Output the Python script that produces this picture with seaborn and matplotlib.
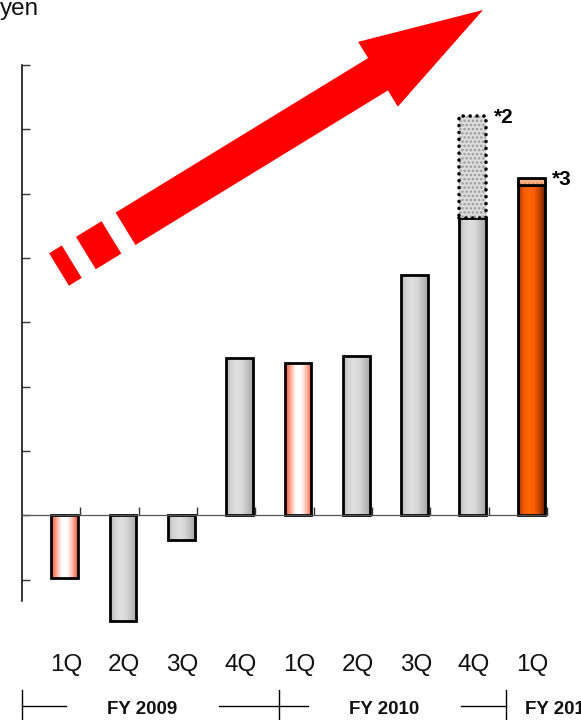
import numpy as np
import pandas as pd
import matplotlib
matplotlib.use("Agg")
import matplotlib.pyplot as plt
import matplotlib.transforms as mtransforms
from matplotlib.colors import LinearSegmentedColormap
from matplotlib.patches import Polygon
import seaborn as sns

# ---- data -------------------------------------------------------------
quarters = ["1Q", "2Q", "3Q", "4Q", "1Q", "2Q", "3Q", "4Q", "1Q"]
fiscal_years = ["FY 2009", "FY 2010", "FY 2011"]
year_of_quarter = ["FY 2009"] * 4 + ["FY 2010"] * 4 + ["FY 2011"]
values = [-0.98, -1.64, -0.38, 2.45, 2.37, 2.47, 3.74, 4.62, 5.13]
extras = [0, 0, 0, 0, 0, 0, 0, 1.59, 0.12]
notes = ["", "", "", "", "", "", "", "*2", "*3"]
unit_label = "yen"

plt.rcParams["font.family"] = ["Liberation Sans", "DejaVu Sans"]
plt.rcParams["hatch.linewidth"] = 1.2

W, H = 581, 720
fig = plt.figure(figsize=(W / 100, H / 100), dpi=100)
ax = fig.add_axes([22 / W, 0, (547 - 22) / W, 1 - 65 / H])

periods = [f"{y} {q}" for y, q in zip(year_of_quarter, quarters)]
df = pd.DataFrame({"period": periods, "value": values})

sns.barplot(data=df, x="period", y="value", order=periods, color="#d6d6d6",
            saturation=1, width=0.46, edgecolor="black", linewidth=2.0,
            errorbar=None, ax=ax)

# bar style: first quarter of a year is highlighted, the latest quarter in orange
kinds = []
for i, q in enumerate(quarters):
    if i == len(quarters) - 1:
        kinds.append("orange")
    elif q == "1Q":
        kinds.append("pink")
    else:
        kinds.append("gray")

cmaps = {
    "gray": LinearSegmentedColormap.from_list(
        "gray", ["#b4b4b4", "#d4d4d4", "#e0e0e0", "#d8d8d8", "#c0c0c0", "#a8a8a8"]),
    "pink": LinearSegmentedColormap.from_list(
        "pink", ["#ee4a28", "#fca890", "#ffffff", "#ffffff", "#fcb8a8", "#f05534"]),
    "orange": LinearSegmentedColormap.from_list(
        "orange", ["#a03000", "#f05a08", "#ff6600", "#f85e00", "#c04400", "#702000"]),
}

grad = np.linspace(0, 1, 256).reshape(1, -1)
bars = list(ax.patches)
for bar, kind in zip(bars, kinds):
    x0, y0, w, h = bar.get_x(), bar.get_y(), bar.get_width(), bar.get_height()
    im = ax.imshow(grad, cmap=cmaps[kind], extent=(x0, x0 + w, y0, y0 + h),
                   aspect="auto", interpolation="bilinear",
                   zorder=bar.get_zorder() - 0.05)
    im.set_clip_path(bar)
    bar.set_facecolor("none")

# stacked extra portions with footnote marks
for bar, kind, base, extra, note in zip(bars, kinds, values, extras, notes):
    if extra <= 0:
        continue
    cx = bar.get_x() + bar.get_width() / 2
    w = bar.get_width()
    if kind == "gray":
        ax.bar(cx, extra, bottom=base, width=w, facecolor="#dcdcdc",
               edgecolor="#9a9a9a", hatch="....", linewidth=0, zorder=2)
        outline = ax.bar(cx, extra, bottom=base, width=w, fill=False,
                         edgecolor="black", linewidth=2.6,
                         linestyle=(0, (0.01, 1.9)), zorder=3)
        for p in outline:
            p.set_capstyle("round")
    else:
        ax.bar(cx, extra, bottom=base, width=w, facecolor="#f9b488",
               edgecolor="#f08a58", hatch="....", linewidth=0, zorder=2)
        ax.bar(cx, extra, bottom=base, width=w, fill=False,
               edgecolor="black", linewidth=2.0, zorder=3)
    ax.text(bar.get_x() + w + 0.13, base + extra - 0.03, note,
            ha="left", va="center", fontsize=15, fontweight="bold")

# axes styling
ax.set_xlim(-0.73, len(quarters) - 0.73)
ax.set_ylim(-3.18, 7.0)
ax.set_xlabel("")
ax.set_ylabel("")
for s in ["top", "right"]:
    ax.spines[s].set_visible(False)
ax.spines["left"].set_bounds(-1.33, 7.0)
ax.spines["left"].set_linewidth(1.1)
ax.spines["bottom"].set_position(("data", 0))
ax.spines["bottom"].set_linewidth(0.9)
ax.spines["bottom"].set_color("#555555")
ax.set_yticks(np.arange(-1, 8))
ax.set_xticks(np.arange(len(quarters)) + 0.27)
ax.tick_params(axis="y", direction="in", length=6, width=1.0, color="#333333",
               labelleft=False)
ax.tick_params(axis="x", direction="in", length=6, width=1.0, color="#333333",
               labelbottom=False)

# quarter labels
for bar, q in zip(bars, quarters):
    ax.text(bar.get_x() + bar.get_width() / 2 + 0.02, -2.42, q, ha="center",
            va="baseline", fontsize=17.5, color="#111111")

# fiscal-year brackets
year_edges = [-0.73, 3.68, 7.57, 9.67]
line_y = -2.97
gap = 1.305
for k, fy in enumerate(fiscal_years):
    start, end = year_edges[k], year_edges[k + 1]
    center = (start + end) / 2 - 0.14
    if center - gap > start:
        ax.plot([start, center - gap], [line_y, line_y], color="black", lw=1.0,
                clip_on=False)
    if center + gap < end:
        ax.plot([center + gap, end], [line_y, line_y], color="black", lw=1.0,
                clip_on=False)
    ax.text(center, -3.08, fy, ha="center", va="baseline", fontsize=13.5,
            fontweight="bold", color="#111111", clip_on=False)
for edge in year_edges[:3]:
    ax.plot([edge, edge], [-2.71, -3.3], color="black", lw=1.0, clip_on=False)

# unit caption
fig.text(0, 1 - 15.5 / H, unit_label, ha="left", va="baseline", fontsize=17.5,
         color="#111111")

# growth arrow, built in pixel space (origin top-left)
px = mtransforms.Affine2D().scale(1 / W, -1 / H).translate(0, 1) + fig.transFigure
start = np.array([59.0, 269.5])
tip = np.array([483.0, 10.0])
u = (tip - start) / np.linalg.norm(tip - start)
n = np.array([-u[1], u[0]]) * -1
length = np.linalg.norm(tip - start)
half = 19.0


def pt(s, t):
    return start + u * s + n * t


for s0, s1 in [(0, 15), (31.5, 61.5)]:
    poly = [pt(s0, -half), pt(s1, -half), pt(s1, half), pt(s0, half)]
    fig.add_artist(Polygon(poly, closed=True, transform=px, facecolor="#ff0000",
                           edgecolor="none"))
head_back = 374.0
body = [pt(78, -half), pt(head_back, -half), pt(head_back, -2 * half),
        pt(length, 0), pt(head_back, 2 * half), pt(head_back, half),
        pt(78, half)]
fig.add_artist(Polygon(body, closed=True, transform=px, facecolor="#ff0000",
                       edgecolor="none"))

fig.savefig("out.png", dpi=100)
